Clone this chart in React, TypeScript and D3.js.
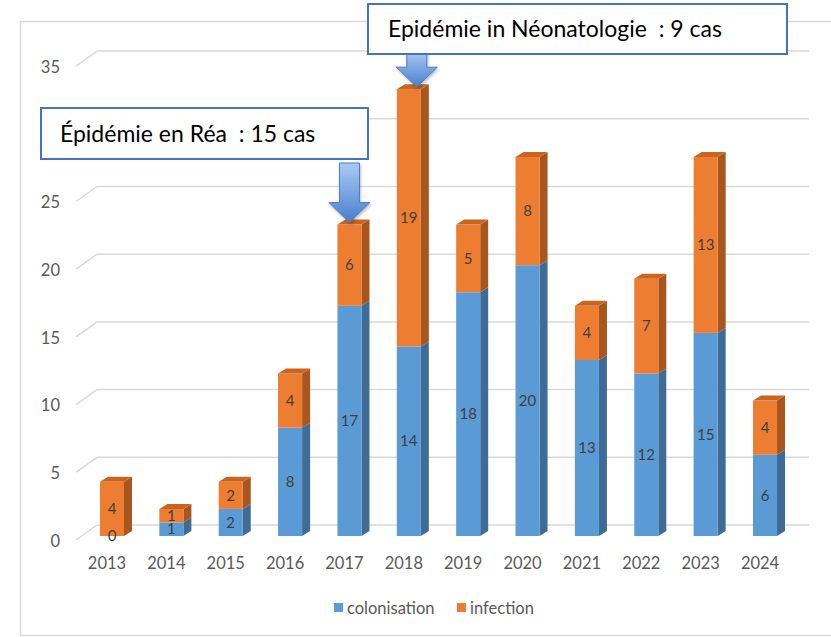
import * as d3 from "d3";

// --- data ---
const years = ["2013", "2014", "2015", "2016", "2017", "2018", "2019", "2020", "2021", "2022", "2023", "2024"];
const colonisation = [0, 1, 2, 8, 17, 14, 18, 20, 13, 12, 15, 6];
const infection = [4, 1, 2, 4, 6, 19, 5, 8, 4, 7, 13, 4];
const yTicks = [0, 5, 10, 15, 20, 25, 30, 35];
const seriesNames = ["colonisation", "infection"];
const annotations = [
  { year: "2017", text: "Épidémie en Réa  : 15 cas" },
  { year: "2018", text: "Epidémie in Néonatologie  : 9 cas" },
];

const W = 831;
const H = 637;
const FONT = "Lato, 'Open Sans', sans-serif";

// colours: front, side, top
const palette = {
  colonisation: { front: "#5B9BD5", side: "#3E6C96", top: "#4E88BE" },
  infection: { front: "#ED7D31", side: "#A8561E", top: "#C9651F" },
};

// 3d offsets
const depthX = 8;
const depthY = 5;
const wallX = 21;

// annotation boxes and arrow layout (not data)
const annotationLayout = [
  { box: [41, 108, 327, 51], textX: 60, textY: 142, arrowTop: 163, arrowDx: 0 },
  { box: [368, 4, 419, 50], textX: 388, textY: 37, arrowTop: 50, arrowDx: 8 },
];

export default function App() {
  const x = d3.scaleBand<string>().domain(years).range([82.3, 794.7]).padding(0);
  const y = d3.scaleLinear().domain([0, 35]).range([536, 536 - 35 * 13.54]);
  const barW = x.bandwidth() * 0.405;
  const cx = (yr: string) => (x(yr) as number) + x.bandwidth() / 2;

  const rows = years.map((yr, i) => ({ year: yr, colonisation: colonisation[i], infection: infection[i] }));
  const stack = d3.stack<any>().keys(seriesNames)(rows);

  const gridBack = (v: number) => y(v) - 11;
  const gridFront = (v: number) => y(v) + 4;
  const gridLeft = 97;
  const gridRight = 809;

  return (
    <svg width={W} height={H} style={{ position: "absolute", left: 0, top: 0, fontFamily: FONT }}>
      <defs>
        <linearGradient id="arrowGrad" x1="0" y1="0" x2="0" y2="1">
          <stop offset="0" stopColor="#A9CBF6" />
          <stop offset="1" stopColor="#4A7FCB" />
        </linearGradient>
        <filter id="shadow" x="-30%" y="-30%" width="160%" height="160%">
          <feDropShadow dx="1" dy="2" stdDeviation="1.5" floodColor="#000" floodOpacity="0.25" />
        </filter>
      </defs>
      <rect x={0} y={0} width={W} height={H} fill="#fff" />
      <rect x={20.5} y={21.5} width={W + 10} height={614} fill="none" stroke="#D9D9D9" strokeWidth={1.5} />

      {/* gridlines on back wall with perspective stub */}
      {yTicks.map((t) => (
        <g key={t}>
          <line x1={gridLeft} x2={gridRight} y1={gridBack(t)} y2={gridBack(t)} stroke="#D9D9D9" strokeWidth={1.5} />
          <line x1={gridLeft - wallX} x2={gridLeft} y1={gridFront(t)} y2={gridBack(t)} stroke="#D9D9D9" strokeWidth={1.5} />
          <text x={60} y={gridFront(t) + 1} dy="0.35em" textAnchor="end" fontSize={16.5} fill="#595959">
            {t}
          </text>
        </g>
      ))}

      {/* bars */}
      {stack.map((layer) => {
        const key = layer.key as "colonisation" | "infection";
        const col = palette[key];
        return (
          <g key={key}>
            {layer.map((d, i) => {
              const yr = years[i];
              const x0 = cx(yr) - barW / 2;
              const x1 = x0 + barW;
              const yTop = y(d[1]);
              const yBot = y(d[0]);
              const isTop = key === "infection" || infection[i] === 0;
              if (d[1] - d[0] <= 0) return null;
              return (
                <g key={yr}>
                  <path
                    d={`M${x1},${yBot}L${x1 + depthX},${yBot - depthY}L${x1 + depthX},${yTop - depthY}L${x1},${yTop}Z`}
                    fill={col.side}
                  />
                  <rect x={x0} y={yTop} width={barW} height={yBot - yTop} fill={col.front} />
                  {isTop && (
                    <path
                      d={`M${x0},${yTop}L${x0 + depthX},${yTop - depthY}L${x1 + depthX},${yTop - depthY}L${x1},${yTop}Z`}
                      fill={col.top}
                    />
                  )}
                </g>
              );
            })}
          </g>
        );
      })}

      {/* data labels */}
      {stack.map((layer) =>
        layer.map((d, i) => {
          const yr = years[i];
          const v = d[1] - d[0];
          const yc = (y(d[0]) + y(d[1])) / 2;
          return (
            <text
              key={layer.key + yr}
              x={cx(yr)}
              y={yc}
              dy="0.35em"
              textAnchor="middle"
              fontSize={15}
              fill="#404040"
            >
              {v}
            </text>
          );
        })
      )}

      {/* category labels */}
      {years.map((yr) => (
        <text key={yr} x={cx(yr) - 5} y={563} dy="0.35em" textAnchor="middle" fontSize={16.5} fill="#595959">
          {yr}
        </text>
      ))}

      {/* legend */}
      <g fontSize={16.5} fill="#595959">
        <rect x={334} y={603} width={9} height={9} fill={palette.colonisation.front} />
        <text x={347} y={608} dy="0.35em">colonisation</text>
        <rect x={457} y={603} width={9} height={9} fill={palette.infection.front} />
        <text x={470} y={608} dy="0.35em">infection</text>
      </g>

      {/* annotation arrows */}
      {annotations.map((a, k) => {
        const L = annotationLayout[k];
        const i = years.indexOf(a.year);
        const c = cx(a.year) + L.arrowDx;
        const tip = y(colonisation[i] + infection[i]) - 2;
        const headTop = tip - 20;
        const p = `M${c - 10},${L.arrowTop}L${c + 10},${L.arrowTop}L${c + 10},${headTop}L${c + 20.5},${headTop}L${c},${tip}L${c - 20.5},${headTop}L${c - 10},${headTop}Z`;
        return (
          <path key={a.year} d={p} fill="url(#arrowGrad)" stroke="#4A7EBB" strokeWidth={1} filter="url(#shadow)" />
        );
      })}

      {/* annotation boxes */}
      {annotations.map((a, k) => {
        const L = annotationLayout[k];
        const [bx, by, bw, bh] = L.box;
        return (
          <g key={a.text}>
            <rect x={bx} y={by} width={bw} height={bh} fill="#fff" stroke="#4472C4" strokeWidth={2} />
            <text x={L.textX} y={L.textY} fontSize={23} fill="#000" style={{ whiteSpace: "pre" }}>
              {a.text}
            </text>
          </g>
        );
      })}
    </svg>
  );
}
